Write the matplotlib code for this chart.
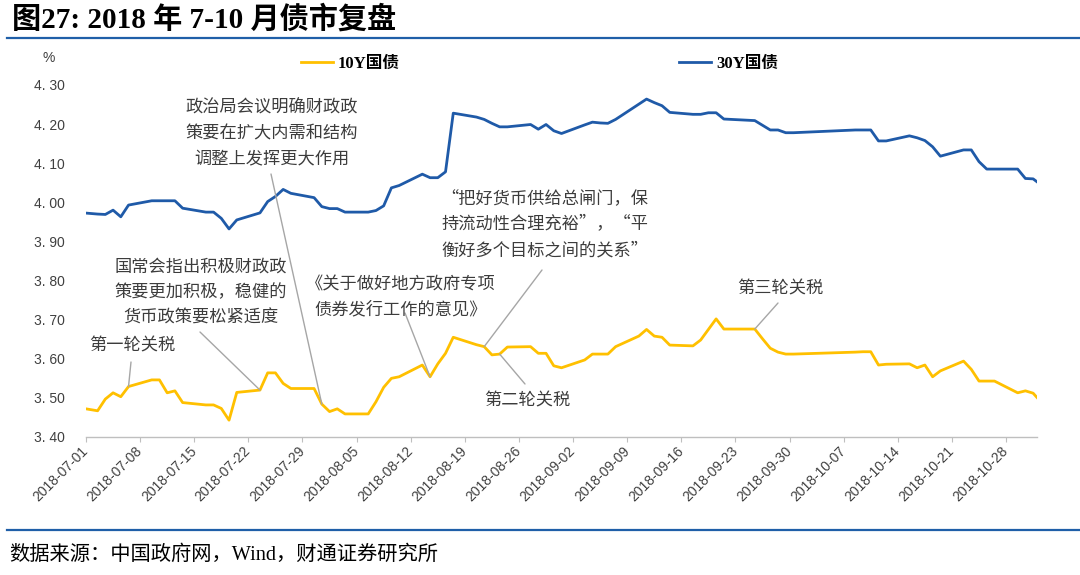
import matplotlib
matplotlib.use("Agg")
import matplotlib.pyplot as plt
import matplotlib.dates as mdates
from matplotlib.ticker import FuncFormatter
import pandas as pd

# trading days (China interbank), Jul-Oct 2018
dates = [
    "2018-06-29",
    "2018-07-02", "2018-07-03", "2018-07-04", "2018-07-05", "2018-07-06",
    "2018-07-09", "2018-07-10", "2018-07-11", "2018-07-12", "2018-07-13",
    "2018-07-16", "2018-07-17", "2018-07-18", "2018-07-19", "2018-07-20",
    "2018-07-23", "2018-07-24", "2018-07-25", "2018-07-26", "2018-07-27",
    "2018-07-30", "2018-07-31", "2018-08-01", "2018-08-02", "2018-08-03",
    "2018-08-06", "2018-08-07", "2018-08-08", "2018-08-09", "2018-08-10",
    "2018-08-13", "2018-08-14", "2018-08-15", "2018-08-16", "2018-08-17",
    "2018-08-20", "2018-08-21", "2018-08-22", "2018-08-23", "2018-08-24",
    "2018-08-27", "2018-08-28", "2018-08-29", "2018-08-30", "2018-08-31",
    "2018-09-03", "2018-09-04", "2018-09-05", "2018-09-06", "2018-09-07",
    "2018-09-10", "2018-09-11", "2018-09-12", "2018-09-13", "2018-09-14",
    "2018-09-17", "2018-09-18", "2018-09-19", "2018-09-20", "2018-09-21",
    "2018-09-25", "2018-09-26", "2018-09-27", "2018-09-28", "2018-09-29", "2018-09-30",
    "2018-10-08", "2018-10-09", "2018-10-10", "2018-10-11", "2018-10-12",
    "2018-10-15", "2018-10-16", "2018-10-17", "2018-10-18", "2018-10-19",
    "2018-10-22", "2018-10-23", "2018-10-24", "2018-10-25", "2018-10-26",
    "2018-10-29", "2018-10-30", "2018-10-31", "2018-11-01",
]

y10 = [
    3.477,
    3.467, 3.497, 3.513, 3.503, 3.529,
    3.546, 3.546, 3.513, 3.518, 3.488,
    3.482, 3.482, 3.473, 3.443, 3.514,
    3.520, 3.564, 3.564, 3.537, 3.524,
    3.524, 3.484, 3.465, 3.472, 3.459,
    3.459, 3.490, 3.527, 3.550, 3.554,
    3.584, 3.554, 3.587, 3.614, 3.655,
    3.636, 3.631, 3.610, 3.612, 3.630,
    3.631, 3.614, 3.614, 3.582, 3.577,
    3.597, 3.612, 3.612, 3.612, 3.631,
    3.658, 3.675, 3.658, 3.655, 3.635,
    3.633, 3.648, 3.675, 3.702, 3.676,
    3.676, 3.651, 3.627, 3.617, 3.612, 3.612,
    3.617, 3.618, 3.618, 3.584, 3.586,
    3.587, 3.577, 3.584, 3.554, 3.569,
    3.594, 3.573, 3.543, 3.543, 3.543,
    3.513, 3.518, 3.512, 3.490,
]

y30 = [
    3.975,
    3.970, 3.969, 3.980, 3.963, 3.993,
    4.004, 4.004, 4.004, 4.004, 3.985,
    3.975, 3.975, 3.959, 3.932, 3.955,
    3.973, 4.002, 4.015, 4.033, 4.023,
    4.012, 3.989, 3.984, 3.984, 3.975,
    3.975, 3.979, 3.991, 4.037, 4.043,
    4.072, 4.063, 4.063, 4.078, 4.228,
    4.218, 4.212, 4.202, 4.193, 4.193,
    4.199, 4.187, 4.199, 4.183, 4.176,
    4.198, 4.205, 4.203, 4.202, 4.212,
    4.251, 4.264, 4.255, 4.247, 4.230,
    4.225, 4.225, 4.229, 4.229, 4.213,
    4.209, 4.197, 4.185, 4.185, 4.178, 4.178,
    4.185, 4.185, 4.185, 4.157, 4.157,
    4.170, 4.165, 4.158, 4.142, 4.118,
    4.134, 4.134, 4.104, 4.085, 4.085,
    4.085, 4.061, 4.060, 4.045,
]

yticks = [3.40, 3.50, 3.60, 3.70, 3.80, 3.90, 4.00, 4.10, 4.20, 4.30]

# (text lines, centre x px, first line y px, leader start px, date of data point, series)
notes = [
    (["政治局会议明确财政政", "策要在扩大内需和结构", "调整上发挥更大作用"], 272, 108, (271, 174), "2018-07-31", "10Y"),
    (["国常会指出积极财政政", "策要更加积极，稳健的", "货币政策要松紧适度"], 201, 267, (200, 332), "2018-07-23", "10Y"),
    (["第一轮关税"], 132, 345, (131, 362), "2018-07-06", "10Y"),
    (["《关于做好地方政府专项", "债券发行工作的意见》"], 401, 284, (405, 313), "2018-08-14", "10Y"),
    (["“把好货币供给总闸门，保", "持流动性合理充裕”，“平", "衡好多个目标之间的关系”"], 545, 199, (542, 270), "2018-08-21", "10Y"),
    (["第二轮关税"], 527, 400, (525, 384), "2018-08-23", "10Y"),
    (["第三轮关税"], 780, 288, (778, 303), "2018-09-25", "10Y"),
]

W, H = 1080, 575
CJK = "Noto Sans CJK SC"
SERIF = ["Liberation Serif", CJK]
SANS = ["Liberation Sans", CJK]
YELLOW = "#FFC000"
BLUE = "#1F5AA8"
RULE = "#1F5FA8"

fig = plt.figure(figsize=(W / 100, H / 100), dpi=100)
ax = fig.add_axes([86 / W, 1 - 437 / H, (1037 - 86) / W, (437 - 85) / H])

x = pd.to_datetime(dates) + pd.Timedelta(hours=12)
ax.plot(x, y10, color=YELLOW, lw=2.0, label="10Y国债", solid_joinstyle="round")
ax.plot(x, y30, color=BLUE, lw=2.0, label="30Y国债", solid_joinstyle="round")

ax.set_xlim(pd.Timestamp("2018-07-01"), pd.Timestamp("2018-11-01"))
ax.set_ylim(3.40, 4.30)
ax.set_yticks(yticks)
ax.yaxis.set_major_formatter(FuncFormatter(lambda v, p: f"{v:.2f}".replace(".", ". ")))
ax.set_xticks(pd.date_range("2018-07-01", "2018-10-28", freq="7D"))
ax.xaxis.set_major_formatter(mdates.DateFormatter("%Y-%m-%d"))

for s in ["top", "right", "left"]:
    ax.spines[s].set_visible(False)
ax.spines["bottom"].set_color("#BFBFBF")
ax.spines["bottom"].set_linewidth(1.0)
ax.tick_params(axis="y", length=0, pad=15, labelsize=10, labelcolor="#404040")
ax.tick_params(axis="x", length=3.6, width=0.8, color="#BFBFBF", direction="out",
               pad=5, labelsize=10, labelcolor="#404040")
for lab in ax.get_yticklabels():
    lab.set_family(SANS)
for lab in ax.get_xticklabels():
    lab.set_family(SANS)
    lab.set_rotation(45)
    lab.set_ha("right")
    lab.set_va("center")
    lab.set_rotation_mode("anchor")

fig.text(49 / W, 1 - 58 / H, "%", family=SANS, fontsize=10, color="#404040",
         ha="center", va="center")

leg = ax.legend(ncol=2, loc="center left", bbox_to_anchor=(293 / W, 1 - 64 / H),
                bbox_transform=fig.transFigure, frameon=False, borderpad=0,
                handlelength=1.9, handletextpad=0.3, columnspacing=16.75,
                prop={"family": SERIF, "weight": "bold", "size": 12})

# annotations
series = {"10Y": y10, "30Y": y30}
for lines, cx, y0, (lx, ly), d, key in notes:
    for i, t in enumerate(lines):
        fig.text(cx / W, 1 - (y0 + i * 25.5) / H, t, family=CJK, fontsize=12.4,
                 color="#3C3C3C", ha="center", va="center")
    k = dates.index(d)
    ax.annotate("", xy=(x[k], series[key][k]), xycoords="data",
                xytext=(lx, H - ly), textcoords="figure pixels",
                arrowprops=dict(arrowstyle="-", color="#A6A6A6", lw=1.0,
                                shrinkA=0, shrinkB=0))

# header / footer
fig.text(12 / W, 1 - 19 / H, "图27: 2018 年 7-10 月债市复盘", family=SERIF,
         fontsize=21, weight="bold", color="black", ha="left", va="center")
fig.add_artist(plt.Line2D([7 / W, 1], [1 - 37.7 / H] * 2, color=RULE, lw=1.6,
                          transform=fig.transFigure))
fig.add_artist(plt.Line2D([7 / W, 1], [1 - 530 / H] * 2, color=RULE, lw=1.6,
                          transform=fig.transFigure))
fig.text(9 / W, 1 - 555 / H, "数据来源：中国政府网，Wind，财通证券研究所", family=SERIF,
         fontsize=14.6, color="black", ha="left", va="center")

fig.savefig("out.png", dpi=100)
